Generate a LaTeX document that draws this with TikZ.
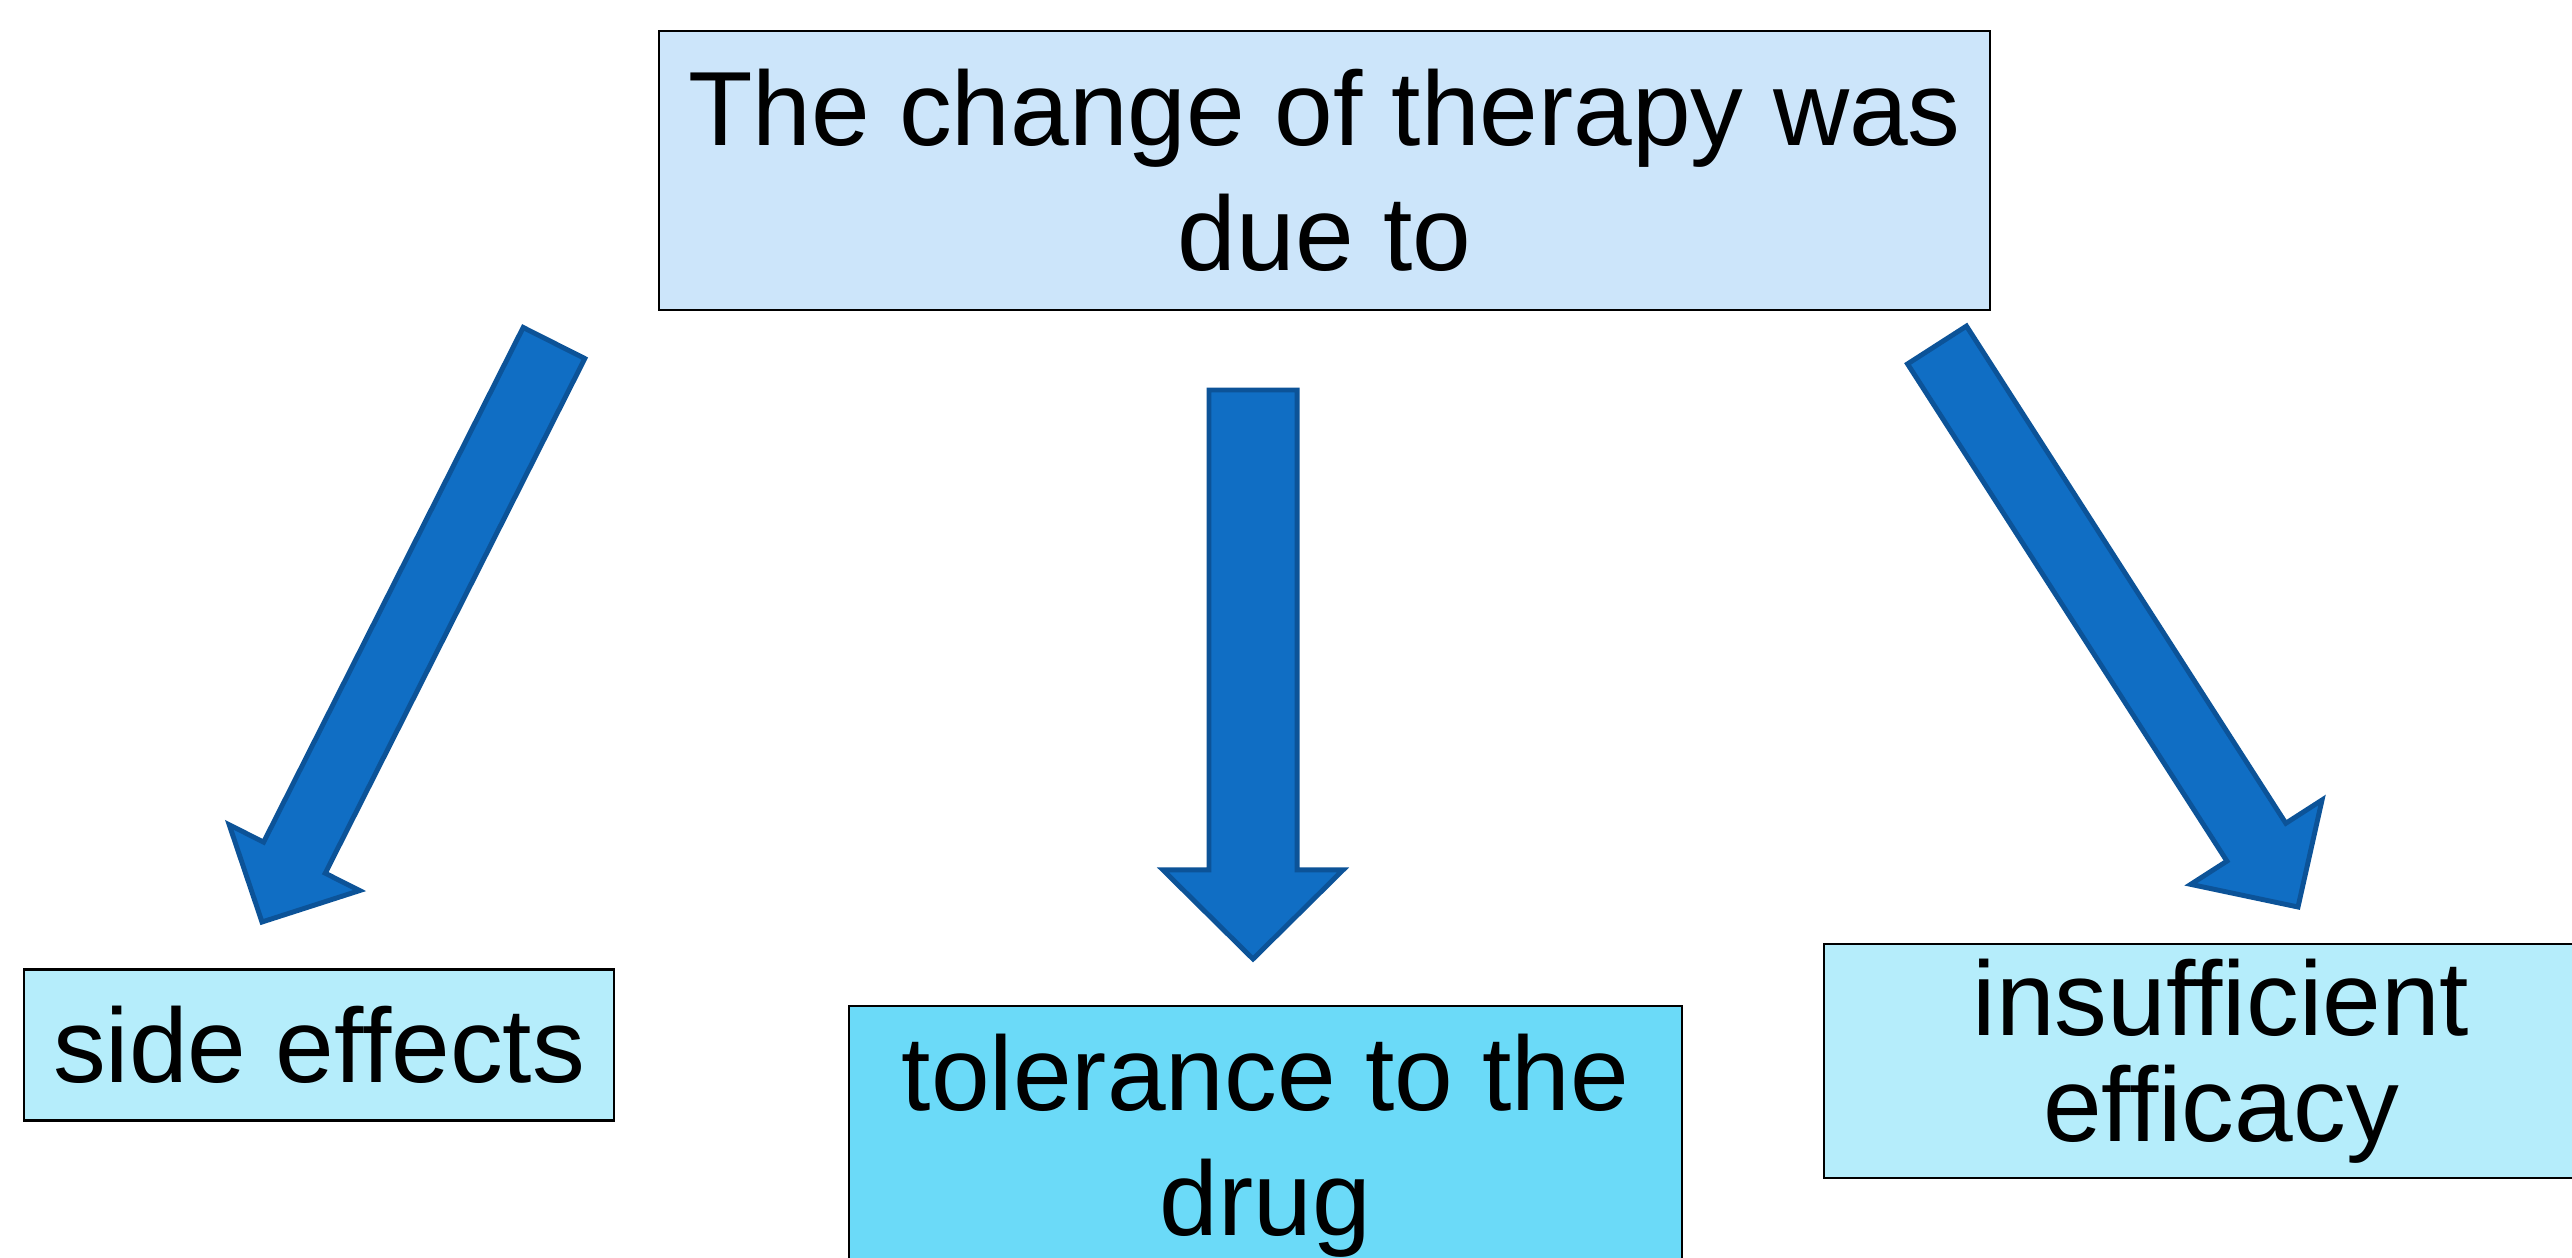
\documentclass[tikz,border=0pt]{standalone}
\usepackage{fontspec}
\setmainfont{Liberation Sans}
\usepackage{tikz}
\usepackage{xcolor}
\usetikzlibrary{calc}
\definecolor{topfill}{HTML}{CCE5FA}
\definecolor{palefill}{HTML}{B5EDFB}
\definecolor{deepfill}{HTML}{6BDAF8}
\definecolor{arrowfill}{HTML}{106EC4}
\definecolor{arrowline}{HTML}{0C5398}

% block arrow: from, to, shaft half width, head half width, head length
\newcommand{\bigarrow}[5]{%
  \coordinate (hb) at ($(#2)!#5!(#1)$);
  \draw[fat] ($(#1)!#3!90:(#2)$) -- ($(hb)!#3!90:(#2)$) -- ($(hb)!#4!90:(#2)$) -- (#2)
    -- ($(hb)!#4!-90:(#2)$) -- ($(hb)!#3!-90:(#2)$) -- ($(#1)!#3!-90:(#2)$) -- cycle;
}

\begin{document}
\begin{tikzpicture}[
    x=0.01cm, y=-0.01cm,
    box/.style={draw=black, line width=0.6pt, inner sep=0pt, align=center, font=\fontsize{30}{35.5}\selectfont},
    causebox/.style={box, fill=topfill, minimum width=13.31cm, minimum height=2.79cm},
    sidebox/.style={box, fill=palefill, minimum width=5.89cm, minimum height=1.51cm},
    tolbox/.style={box, fill=deepfill, minimum width=8.32cm, minimum height=2.79cm},
    insbox/.style={box, fill=palefill, minimum width=7.94cm, minimum height=2.33cm, font=\fontsize{30}{30}\selectfont},
    fat/.style={fill=arrowfill, draw=arrowline, line width=1.4pt, line join=miter}
  ]
    \path[use as bounding box] (0,0) rectangle (2572,1258);
    \clip (0,0) rectangle (2572,1258);

    \node[causebox] (cause) at (1324.5,170.5) {The change of therapy was\\due to};
    \node[sidebox] (side) at (319,1045) {side effects};
    \node[tolbox] (toler) at (1265.5,1146) {tolerance to the\\drug};
    \node[insbox] (insuff) at (2221,1061) {insufficient\\efficacy};

    \coordinate (lfrom) at (554,343);
    \coordinate (lto) at (262,922);
    \coordinate (mfrom) at (1253,390);
    \coordinate (mto) at (1253,959);
    \coordinate (rfrom) at (1937,345);
    \coordinate (rto) at (2298,907);

    \bigarrow{lfrom}{lto}{0.345cm}{0.73cm}{0.72cm}
    \bigarrow{mfrom}{mto}{0.44cm}{0.90cm}{0.89cm}
    \bigarrow{rfrom}{rto}{0.35cm}{0.78cm}{0.77cm}
  \end{tikzpicture}
\end{document}
